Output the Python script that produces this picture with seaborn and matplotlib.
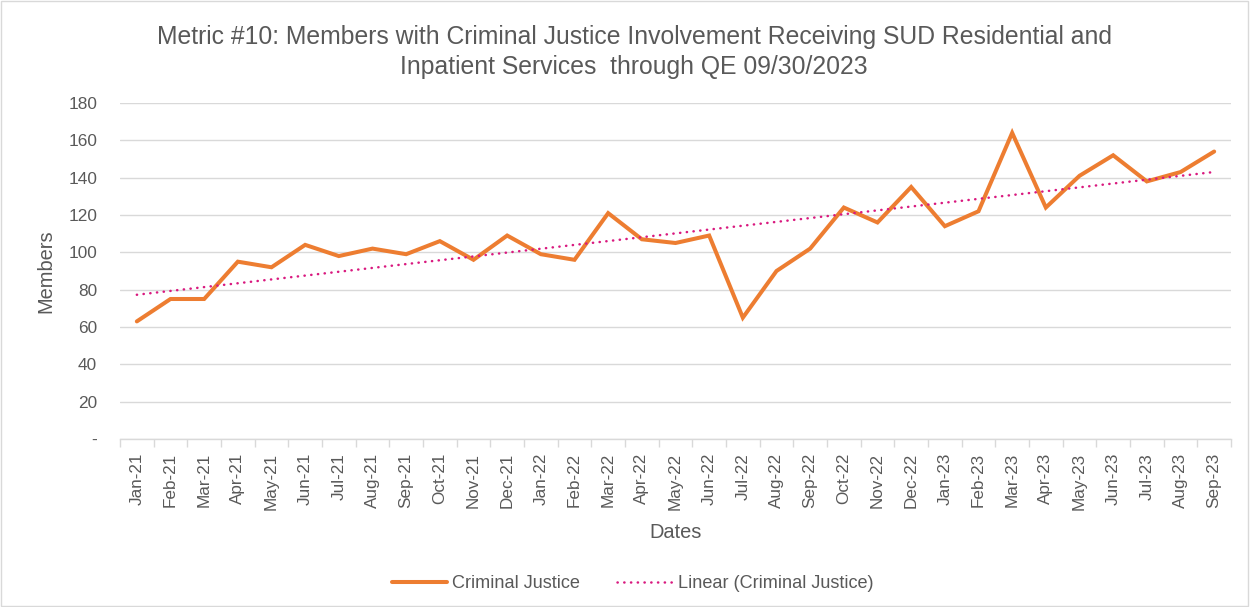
import numpy as np
import pandas as pd
import matplotlib
matplotlib.use("Agg")
import matplotlib.pyplot as plt
from matplotlib.lines import Line2D
from matplotlib.patches import Rectangle
import seaborn as sns

# Monthly counts of members with criminal justice involvement
months = ["Jan-21", "Feb-21", "Mar-21", "Apr-21", "May-21", "Jun-21", "Jul-21",
          "Aug-21", "Sep-21", "Oct-21", "Nov-21", "Dec-21", "Jan-22", "Feb-22",
          "Mar-22", "Apr-22", "May-22", "Jun-22", "Jul-22", "Aug-22", "Sep-22",
          "Oct-22", "Nov-22", "Dec-22", "Jan-23", "Feb-23", "Mar-23", "Apr-23",
          "May-23", "Jun-23", "Jul-23", "Aug-23", "Sep-23"]
members = [63, 75, 75, 95, 92, 104, 98, 102, 99, 106, 96, 109, 99, 96,
           121, 107, 105, 109, 65, 90, 102, 124, 116, 135, 114, 122, 164, 124,
           141, 152, 138, 143, 154]
y_ticks = [0, 20, 40, 60, 80, 100, 120, 140, 160, 180]
y_tick_labels = ["-", "20", "40", "60", "80", "100", "120", "140", "160", "180"]

title = ("Metric #10: Members with Criminal Justice Involvement Receiving SUD Residential and\n"
         "Inpatient Services  through QE 09/30/2023")

sns.set_theme(style="white")
plt.rcParams["font.family"] = ["Liberation Sans", "DejaVu Sans"]

TEXT = "#595959"
GRID = "#d9d9d9"
ORANGE = "#ED7D31"
MAGENTA = "#D9197F"
DOTS = (0, (0.1, 2.6))

x = np.arange(len(months))
df = pd.DataFrame({"idx": x, "members": members})
slope, intercept = np.polyfit(x, members, 1)
df["trend"] = intercept + slope * x

fig = plt.figure(figsize=(12.51, 6.07), dpi=100)
ax = fig.add_axes([120 / 1251, 1 - 439 / 607, (1231 - 120) / 1251, (439 - 103) / 607])

sns.lineplot(data=df, x="idx", y="members", ax=ax, color=ORANGE, linewidth=2.9,
             solid_capstyle="round", solid_joinstyle="miter", zorder=3)
sns.lineplot(data=df, x="idx", y="trend", ax=ax, color=MAGENTA, linewidth=1.8,
             linestyle=DOTS, dash_capstyle="round", zorder=4)

ax.set_xlim(-0.5, len(months) - 0.5)
ax.set_ylim(0, 180)
ax.set_yticks(y_ticks)
ax.set_yticklabels(y_tick_labels)
ax.set_xticks(x)
ax.set_xticklabels(months, rotation=90)
ax.set_xticks(np.arange(-0.5, len(months), 1.0), minor=True)

ax.grid(axis="y", color=GRID, linewidth=1.0)
ax.set_axisbelow(True)
for side in ["top", "right", "left"]:
    ax.spines[side].set_visible(False)
ax.spines["bottom"].set_color(GRID)
ax.spines["bottom"].set_linewidth(1.0)

ax.tick_params(axis="x", which="major", length=0, pad=10, labelsize=12.3, labelcolor=TEXT)
ax.tick_params(axis="x", which="minor", length=6, width=1.0, color=GRID, bottom=True)
ax.tick_params(axis="y", length=0, pad=16.5, labelsize=12.4, labelcolor=TEXT)

ax.set_xlabel("Dates", fontsize=14.4, color=TEXT, labelpad=9)
ax.set_ylabel("Members", fontsize=14.4, color=TEXT, labelpad=9)

fig.text(0.5068, 1 - 25 / 607, title, ha="center", va="top", fontsize=17.8, color=TEXT,
         linespacing=1.3)

handles = [
    Line2D([0], [0], color=ORANGE, linewidth=2.9),
    Line2D([0], [0], color=MAGENTA, linewidth=1.8, linestyle=DOTS,
           dash_capstyle="round"),
]
fig.legend(handles, ["Criminal Justice", "Linear (Criminal Justice)"],
           loc="center", bbox_to_anchor=(0.5056, 0.038), ncol=2, frameon=False,
           fontsize=13.1, labelcolor=TEXT, handlelength=3.05, handletextpad=0.28,
           columnspacing=2.05)

fig.patches.append(Rectangle((0.001, 0.002), 0.997, 0.996, transform=fig.transFigure,
                             fill=False, edgecolor=GRID, linewidth=1.0))

fig.savefig("out.png", dpi=100)
